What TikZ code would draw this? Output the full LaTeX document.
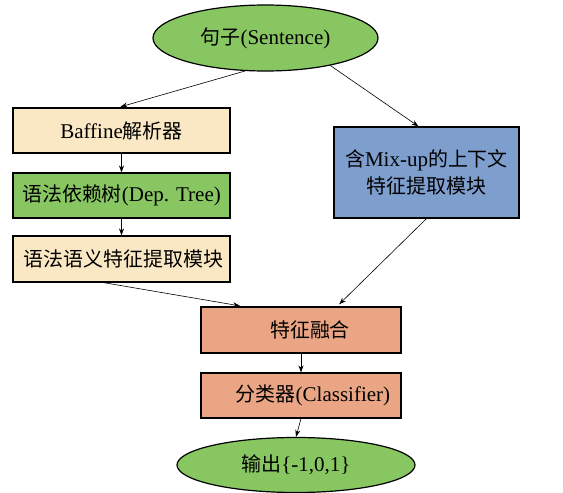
\documentclass[tikz,border=0pt]{standalone}
\usepackage{fontspec}
\setmainfont{Liberation Serif}
\newfontfamily\cjk{Noto Sans CJK SC}[Scale=0.95]
\usetikzlibrary{shapes.geometric, arrows.meta}
\definecolor{mygreen}{RGB}{136,198,98}
\definecolor{mybeige}{RGB}{250,232,196}
\definecolor{myblue}{RGB}{126,158,206}
\definecolor{mysalmon}{RGB}{233,165,132}
\newcommand{\zh}[1]{{\cjk #1}}

\begin{document}
\begin{tikzpicture}[x=1pt, y=-1pt,
    font=\fontsize{21}{27}\selectfont,
    oval/.style={ellipse, draw, line width=1.2pt, fill=mygreen, inner sep=0pt},
    box/.style={rectangle, draw, line width=1.2pt, inner sep=0pt, align=center},
    link/.style={-{Stealth[length=7pt, width=5pt]}, line width=0.6pt}]

                \useasboundingbox (0,0) rectangle (563,493);

                \node[oval, minimum width=225pt, minimum height=66pt] (sent) at (265.5,38) {\zh{句子}(Sentence)};
                \node[box, fill=mybeige, minimum width=217pt, minimum height=45pt] (baffine) at (121.5,130.5) {Baffine\zh{解析器}};
                \node[box, fill=mygreen, minimum width=217pt, minimum height=45pt] (deptree) at (121.5,195.5) {\zh{语法依赖树}(Dep. Tree)};
                \node[box, fill=mybeige, minimum width=217pt, minimum height=46pt] (synsem) at (121.5,259) {\hspace*{4pt}\zh{语法语义特征提取模块}};
                \node[box, fill=myblue, minimum width=185pt, minimum height=91pt] (ctx) at (426.5,172.5) {\zh{含}Mix-up\zh{的上下文}\\\zh{特征提取模块}};
                \node[box, fill=mysalmon, minimum width=200pt, minimum height=46pt] (fuse) at (301,330) {\hspace*{18pt}\zh{特征融合}};
                \node[box, fill=mysalmon, minimum width=200pt, minimum height=45pt] (cls) at (301,395.5) {\hspace*{24pt}\zh{分类器}(Classifier)};
                \node[oval, minimum width=238pt, minimum height=55pt] (out) at (296,465) {\zh{输出}\{-1,0,1\}};

                \draw[link, shorten >=2pt] (sent.238) -- ([xshift=-3pt]baffine.north);
                \draw[link] (sent.337) -- ([xshift=-8pt]ctx.north);
                \draw[link] (baffine.south) -- (deptree.north);
                \draw[link] (deptree.south) -- (synsem.north);
                \draw[link, shorten >=3pt] ([xshift=-18pt]synsem.south) -- ([xshift=-58pt]fuse.north);
                \draw[link, shorten >=3pt] (ctx.south) -- ([xshift=36pt]fuse.north);
                \draw[link] (fuse.south) -- (cls.north);
                \draw[link] (cls.south) -- (out.north);
            \end{tikzpicture}
\end{document}
